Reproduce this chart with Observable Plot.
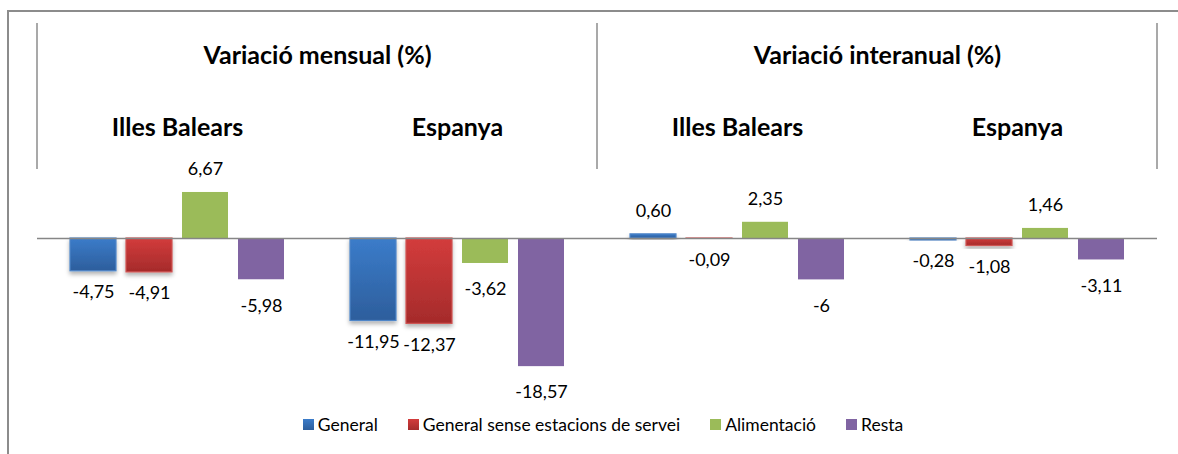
<!DOCTYPE html>
<html>
<head>
<meta charset="utf-8">
<script src="https://cdn.jsdelivr.net/npm/d3@7"></script>
<script src="https://cdn.jsdelivr.net/npm/@observablehq/plot@0.6"></script>
<style>
  html, body { margin: 0; padding: 0; background: #fff; overflow: hidden; }
  body { width: 1178px; height: 454px; position: relative; font-family: Lato, "Open Sans", sans-serif; }
  #frame { position: absolute; left: 7px; top: 10px; width: 1200px; height: 470px;
           border-left: 2px solid #8c8c8c; border-top: 2px solid #8c8c8c; pointer-events: none; }
  #chart { position: absolute; left: 0; top: 0; }
  #legend { position: absolute; left: 0; top: 414px; width: 1206px; display: flex; justify-content: center;
            gap: 30px; font-size: 17.5px; color: #000; }
  .item { display: flex; align-items: center; }
  .sw { width: 11px; height: 11px; margin-right: 4px; display: inline-block; }
</style>
</head>
<body>
<div id="chart"></div>
<div id="legend"></div>
<div id="frame"></div>
<script>
// ---- data ----
const groupKeys = ["IB-mensual", "ES-mensual", "IB-interanual", "ES-interanual"];
const groupNames = ["Illes Balears", "Espanya", "Illes Balears", "Espanya"];
const periodTitles = ["Variació mensual (%)", "Variació interanual (%)"];
const periodFirstGroup = ["IB-mensual", "IB-interanual"];
const series = ["General", "General sense estacions de servei", "Alimentació", "Resta"];

const valuesIBMensual = [-4.75, -4.91, 6.67, -5.98];
const valuesESMensual = [-11.95, -12.37, -3.62, -18.57];
const valuesIBInteranual = [0.60, -0.09, 2.35, -6];
const valuesESInteranual = [-0.28, -1.08, 1.46, -3.11];

const labelsIBMensual = ["-4,75", "-4,91", "6,67", "-5,98"];
const labelsESMensual = ["-11,95", "-12,37", "-3,62", "-18,57"];
const labelsIBInteranual = ["0,60", "-0,09", "2,35", "-6"];
const labelsESInteranual = ["-0,28", "-1,08", "1,46", "-3,11"];

// ---- styles ----
const barFills = ["url(#gradBlue)", "url(#gradRed)", "#9BBB59", "#8064A2"];
const legendFills = ["linear-gradient(#3B7CCA,#2D5E9C)", "linear-gradient(#D33C3C,#A52B2B)", "#9BBB59", "#8064A2"];
const shadedSeries = series.slice(0, 2);

const allValues = [valuesIBMensual, valuesESMensual, valuesIBInteranual, valuesESInteranual];
const allLabels = [labelsIBMensual, labelsESMensual, labelsIBInteranual, labelsESInteranual];
const data = groupKeys.flatMap((g, gi) => series.map((s, si) => ({
  group: g, series: s, value: allValues[gi][si], label: allLabels[gi][si]
})));

const labelOpts = {fx: "group", x: "series", y: "value", text: "label", fontSize: 18, fill: "#000"};

const plot = Plot.plot({
  width: 1178,
  height: 405,
  marginLeft: 36,
  marginRight: 21,
  marginTop: 169,
  marginBottom: 29,
  style: {fontFamily: "Lato, 'Open Sans', sans-serif", background: "transparent", overflow: "visible"},
  fx: {domain: groupKeys, padding: 0, axis: null},
  x: {domain: series, paddingInner: 0.18, paddingOuter: 0.57, axis: null},
  y: {domain: [-20, 10], axis: null},
  color: {domain: series, range: barFills},
  marks: [
    Plot.barY(data, {fx: "group", x: "series", y: "value", fill: "series"}),
    Plot.ruleY([0], {stroke: "#868686", strokeWidth: 1.5}),
    Plot.text(data.filter(d => d.value >= 0), {...labelOpts, dy: -23}),
    Plot.text(data.filter(d => d.value < 0 && shadedSeries.includes(d.series)), {...labelOpts, dy: 21}),
    Plot.text(data.filter(d => d.value < 0 && !shadedSeries.includes(d.series)), {...labelOpts, dy: 26}),
    Plot.text(groupKeys, {fx: d => d, text: (d, i) => groupNames[i], frameAnchor: "top",
      lineAnchor: "middle", dy: -42, fontSize: 25, fontWeight: "bold", fill: "#000"}),
    Plot.text(periodFirstGroup, {fx: d => d, text: (d, i) => periodTitles[i], frameAnchor: "top-right",
      textAnchor: "middle", lineAnchor: "middle", dy: -114, fontSize: 25, fontWeight: "bold", fill: "#000"})
  ]
});

const svg = d3.select(plot);
const defs = svg.insert("defs", ":first-child");
function grad(id, c0, c1) {
  const g = defs.append("linearGradient").attr("id", id).attr("x1", 0).attr("y1", 0).attr("x2", 0).attr("y2", 1);
  g.append("stop").attr("offset", "0%").attr("stop-color", c0);
  g.append("stop").attr("offset", "100%").attr("stop-color", c1);
}
grad("gradBlue", "#3B7CCA", "#2D5E9C");
grad("gradRed", "#D33C3C", "#A52B2B");
const f = defs.append("filter").attr("id", "shadow").attr("x", "-20%").attr("y", "-20%").attr("width", "140%").attr("height", "160%");
f.append("feDropShadow").attr("dx", 0).attr("dy", 3).attr("stdDeviation", 2.2)
  .attr("flood-color", "#000").attr("flood-opacity", 0.3);

svg.selectAll("rect").each(function() {
  const r = d3.select(this);
  const fill = r.attr("fill");
  if (fill === "url(#gradBlue)") r.attr("stroke", "#4F86C8").attr("stroke-width", 1.2).attr("filter", "url(#shadow)");
  if (fill === "url(#gradRed)") r.attr("stroke", "#CF5452").attr("stroke-width", 1.2).attr("filter", "url(#shadow)");
});

// category separators at facet edges
const fx = plot.scale("fx");
const yTop = plot.scale("y").range[1];
const sepX = [fx.apply(groupKeys[0]), fx.apply(groupKeys[2]), fx.apply(groupKeys[3]) + fx.bandwidth];
const sep = svg.append("g").attr("stroke", "#8c8c8c").attr("stroke-width", 1.5);
sepX.forEach(x => sep.append("line").attr("x1", x).attr("x2", x).attr("y1", yTop - 146).attr("y2", yTop));

document.getElementById("chart").appendChild(plot);

// legend
const legend = d3.select("#legend");
series.forEach((s, i) => {
  const it = legend.append("div").attr("class", "item");
  it.append("span").attr("class", "sw").style("background", legendFills[i]);
  it.append("span").text(s);
});
</script>
</body>
</html>
